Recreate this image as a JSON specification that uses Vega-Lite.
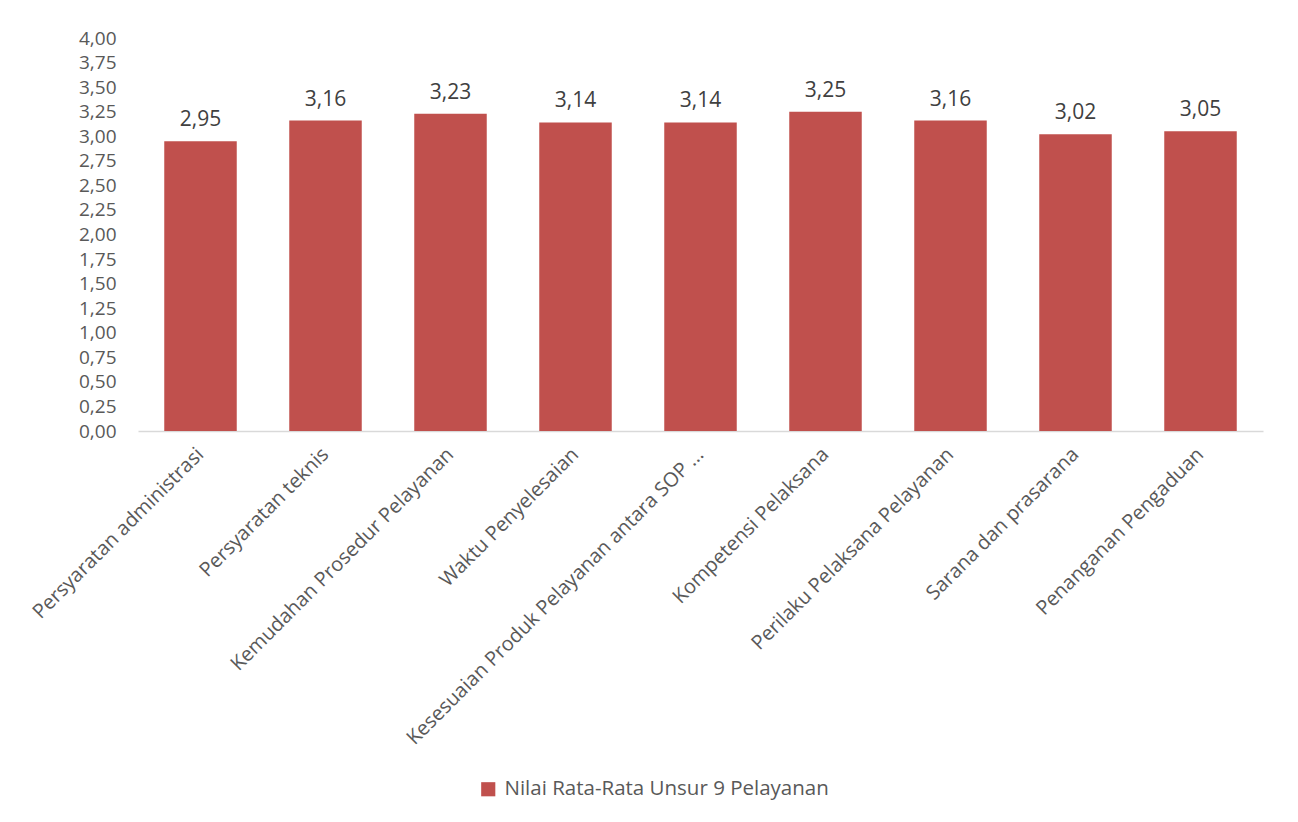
{
  "$schema": "https://vega.github.io/schema/vega-lite/v6.json",
  "autosize": {"type": "none"},
  "width": 1125,
  "height": 393,
  "padding": {"left": 138, "top": 38, "right": 35, "bottom": 391},
  "background": "white",
  "config": {
    "locale": {"number": {"decimal": ",", "thousands": ".", "grouping": [3], "currency": ["", ""]}},
    "font": "Open Sans",
    "view": {"stroke": null}
  },
  "data": {
    "values": [
      {"unsur": "Persyaratan administrasi", "nilai": 2.95, "series": "Nilai Rata-Rata Unsur 9 Pelayanan"},
      {"unsur": "Persyaratan teknis", "nilai": 3.16, "series": "Nilai Rata-Rata Unsur 9 Pelayanan"},
      {"unsur": "Kemudahan Prosedur Pelayanan", "nilai": 3.23, "series": "Nilai Rata-Rata Unsur 9 Pelayanan"},
      {"unsur": "Waktu Penyelesaian", "nilai": 3.14, "series": "Nilai Rata-Rata Unsur 9 Pelayanan"},
      {"unsur": "Kesesuaian Produk Pelayanan antara SOP ...", "nilai": 3.14, "series": "Nilai Rata-Rata Unsur 9 Pelayanan"},
      {"unsur": "Kompetensi Pelaksana", "nilai": 3.25, "series": "Nilai Rata-Rata Unsur 9 Pelayanan"},
      {"unsur": "Perilaku Pelaksana Pelayanan", "nilai": 3.16, "series": "Nilai Rata-Rata Unsur 9 Pelayanan"},
      {"unsur": "Sarana dan prasarana", "nilai": 3.02, "series": "Nilai Rata-Rata Unsur 9 Pelayanan"},
      {"unsur": "Penanganan Pengaduan", "nilai": 3.05, "series": "Nilai Rata-Rata Unsur 9 Pelayanan"}
    ]
  },
  "encoding": {
    "x": {
      "field": "unsur", "type": "nominal", "sort": null,
      "scale": {"paddingInner": 0.42, "paddingOuter": 0.21},
      "axis": {
        "title": null, "labelAngle": -45, "labelAlign": "right", "labelBaseline": "middle",
        "labelFontSize": 20, "labelColor": "#595959", "labelPadding": 20,
        "ticks": false, "domainColor": "#D9D9D9", "domainWidth": 1.5, "labelLimit": 0
      }
    },
    "y": {
      "field": "nilai", "type": "quantitative",
      "scale": {"domain": [0, 4], "nice": false},
      "axis": {
        "title": null, "values": [0, 0.25, 0.5, 0.75, 1, 1.25, 1.5, 1.75, 2, 2.25, 2.5, 2.75, 3, 3.25, 3.5, 3.75, 4],
        "format": ".2f", "grid": false, "domain": false, "ticks": false,
        "labelFontSize": 19, "labelColor": "#595959", "labelPadding": 22
      }
    }
  },
  "layer": [
    {
      "mark": {"type": "bar", "color": "#C0504D"},
      "encoding": {
        "color": {
          "field": "series", "type": "nominal",
          "scale": {"range": ["#C0504D"]},
          "legend": {
            "title": null, "orient": "none", "legendX": 340, "legendY": 741,
            "symbolType": "square", "symbolSize": 200, "labelFontSize": 20.5,
            "labelColor": "#595959", "labelLimit": 0, "symbolOpacity": 1, "labelOffset": 6
          }
        }
      }
    },
    {
      "mark": {"type": "text", "baseline": "bottom", "dy": -11, "fontSize": 21, "color": "#404040"},
      "encoding": {"text": {"field": "nilai", "type": "quantitative", "format": ".2f"}}
    }
  ]
}
